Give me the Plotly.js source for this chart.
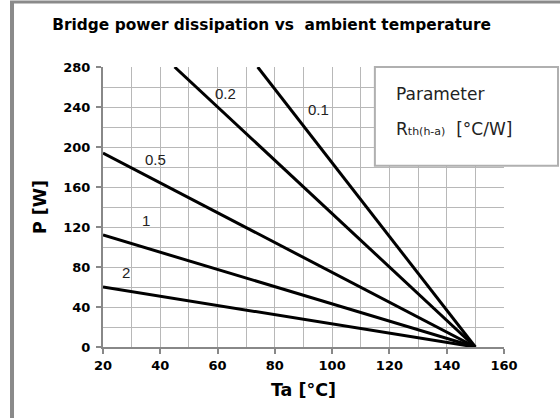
<!DOCTYPE html>
<html>
<head>
<meta charset="utf-8">
<script src="https://cdn.plot.ly/plotly-3.0.1.min.js"></script>
<style>html,body{margin:0;padding:0;background:#fff;}#chart{width:560px;height:418px;}</style>
</head>
<body>
<div id="chart"></div>
<script>
// Parameter Rth(h-a) [°C/W] for each curve
const rthLabels = ["2", "1", "0.5", "0.2", "0.1"];
// Ambient temperature Ta [°C] (start point of each line, end at 150 °C)
const taStart = [20, 20, 20, 45, 74];
const taEnd = [150, 150, 150, 150, 150];
// Power P [W]
const pStart = [60, 112, 194, 280, 280];
const pEnd = [0, 0, 0, 0, 0];
// Label positions (Ta, P) for each curve label
const labelTa = [28, 35, 38.2, 62.9, 95.1];
const labelP = [75, 127, 188, 254, 238];
const xTicks = [20, 40, 60, 80, 100, 120, 140, 160];
const yTicks = [0, 40, 80, 120, 160, 200, 240, 280];

const traces = rthLabels.map((r, i) => ({
  type: 'scatter', mode: 'lines',
  x: [taStart[i], taEnd[i]], y: [pStart[i], pEnd[i]],
  line: {color: '#000', width: 3},
  name: r, hoverinfo: 'skip', cliponaxis: true
}));

const BOLD = 'DejaVu Sans, Verdana, sans-serif';
const annotations = rthLabels.map((r, i) => ({
  x: labelTa[i], y: labelP[i], xref: 'x', yref: 'y', text: r, showarrow: false,
  font: {family: 'Liberation Sans, Arial, sans-serif', size: 15, color: '#222'}
}));
annotations.push({
  xref: 'paper', yref: 'paper', x: 0.725, y: 0.905, xanchor: 'left', yanchor: 'middle',
  text: 'Parameter', showarrow: false,
  font: {family: BOLD, size: 17, color: '#222'}
});
annotations.push({
  xref: 'paper', yref: 'paper', x: 0.725, y: 0.78, xanchor: 'left', yanchor: 'middle',
  text: 'R<span style="font-size:11px">th(h-a)</span>  [°C/W]', showarrow: false,
  font: {family: BOLD, size: 17, color: '#222'}
});

const gridColor = '#b8b8b8';
const tickFont = {family: BOLD, size: 13, weight: 700, color: '#000'};

const layout = {
  width: 560, height: 418,
  margin: {l: 103, r: 56, t: 67, b: 71},
  paper_bgcolor: '#fff', plot_bgcolor: '#fff',
  showlegend: false,
  title: {
    text: 'Bridge power dissipation vs  ambient temperature',
    font: {family: BOLD, size: 15.4, weight: 700, color: '#000'},
    x: 0.485, xanchor: 'center', y: 0.94, yanchor: 'middle'
  },
  xaxis: {
    range: [20, 160], tickvals: xTicks, ticktext: xTicks.map(String),
    showgrid: true, gridcolor: gridColor, gridwidth: 1,
    minor: {dtick: 10, tick0: 0, showgrid: true, gridcolor: gridColor, gridwidth: 1},
    showline: true, linecolor: '#888', linewidth: 2,
    ticks: 'outside', ticklen: 5, tickcolor: '#888', tickwidth: 2,
    tickfont: tickFont, zeroline: false, fixedrange: true,
    title: {text: 'Ta [°C]', standoff: 12,
      font: {family: BOLD, size: 17.5, weight: 700, color: '#000'}}
  },
  yaxis: {
    range: [0, 280], tickvals: yTicks, ticktext: yTicks.map(String),
    showgrid: true, gridcolor: gridColor, gridwidth: 1,
    minor: {dtick: 20, tick0: 0, showgrid: true, gridcolor: gridColor, gridwidth: 1},
    showline: true, linecolor: '#888', linewidth: 2,
    ticks: 'outside', ticklen: 5, tickcolor: '#888', tickwidth: 2,
    tickfont: tickFont, zeroline: false, fixedrange: true, ticklabelstandoff: 3,
    title: {text: 'P [W]', standoff: 12,
      font: {family: BOLD, size: 17.5, weight: 700, color: '#000'}}
  },
  shapes: [
    {type: 'rect', xref: 'paper', yref: 'paper', x0: 0.678, x1: 1.1347, y0: 0.647, y1: 1.0,
     fillcolor: '#fff', line: {color: '#b0b0b0', width: 2}, layer: 'above'},
    {type: 'line', xref: 'paper', yref: 'paper', x0: -0.2269, x1: -0.2269, y0: -0.26, y1: 1.234,
     line: {color: '#8a8a8a', width: 4}},
    {type: 'line', xref: 'paper', yref: 'paper', x0: -0.2319, x1: 1.15, y0: 1.232, y1: 1.232,
     line: {color: '#8a8a8a', width: 3}}
  ],
  annotations: annotations
};

Plotly.newPlot('chart', traces, layout, {displayModeBar: false, staticPlot: true});
</script>
</body>
</html>
